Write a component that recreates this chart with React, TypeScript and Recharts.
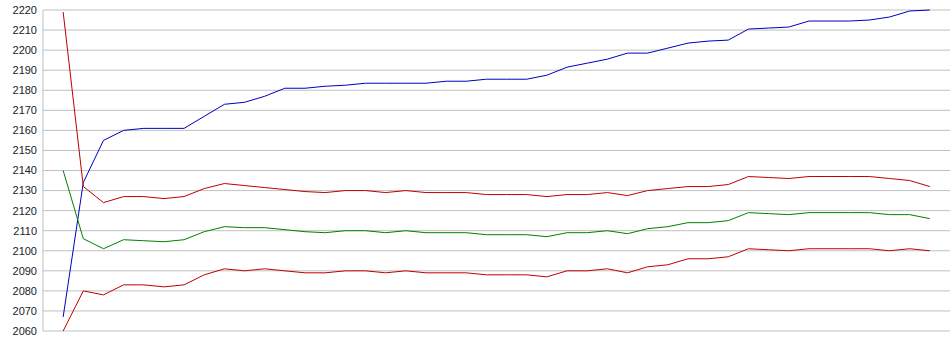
import { LineChart, Line, XAxis, YAxis, CartesianGrid } from "recharts"

// readings, one per step (44 steps)
const steps = Array.from({ length: 44 }, (_, i) => i)

const blue = [
  2067, 2134, 2155, 2160, 2161, 2161, 2161, 2167, 2173, 2174, 2177, 2181, 2181,
  2182, 2182.5, 2183.5, 2183.5, 2183.5, 2183.5, 2184.5, 2184.5, 2185.5, 2185.5, 2185.5,
  2187.5, 2191.5, 2193.5, 2195.5, 2198.5, 2198.5, 2201, 2203.5, 2204.5, 2205,
  2210.5, 2211, 2211.5, 2214.5, 2214.5, 2214.5, 2215, 2216.5, 2219.5, 2220,
]

const upper = [
  2219, 2132, 2124, 2127, 2127, 2126, 2127, 2131, 2133.5, 2132.5, 2131.5, 2130.5, 2129.5,
  2129, 2130, 2130, 2129, 2130, 2129, 2129, 2129, 2128, 2128, 2128,
  2127, 2128, 2128, 2129, 2127.5, 2130, 2131, 2132, 2132, 2133,
  2137, 2136.5, 2136, 2137, 2137, 2137, 2137, 2136, 2135, 2132,
]

const middle = [
  2140, 2106, 2101, 2105.5, 2105, 2104.5, 2105.5, 2109.5, 2112, 2111.5, 2111.5, 2110.5, 2109.5,
  2109, 2110, 2110, 2109, 2110, 2109, 2109, 2109, 2108, 2108, 2108,
  2107, 2109, 2109, 2110, 2108.5, 2111, 2112, 2114, 2114, 2115,
  2119, 2118.5, 2118, 2119, 2119, 2119, 2119, 2118, 2118, 2116,
]

const lower = [
  2060, 2080, 2078, 2083, 2083, 2082, 2083, 2088, 2091, 2090, 2091, 2090, 2089,
  2089, 2090, 2090, 2089, 2090, 2089, 2089, 2089, 2088, 2088, 2088,
  2087, 2090, 2090, 2091, 2089, 2092, 2093, 2096, 2096, 2097,
  2101, 2100.5, 2100, 2101, 2101, 2101, 2101, 2100, 2101, 2100,
]

const yTicks = [
  2060, 2070, 2080, 2090, 2100, 2110, 2120, 2130, 2140,
  2150, 2160, 2170, 2180, 2190, 2200, 2210, 2220,
]

const data = steps.map((i) => ({
  idx: i,
  blue: blue[i],
  upper: upper[i],
  middle: middle[i],
  lower: lower[i],
}))

export default function App() {
  return (
    <div style={{ position: "absolute", left: 0, top: 0, background: "#fff" }}>
      <LineChart
        width={950}
        height={355}
        data={data}
        margin={{ top: 10, right: 0, bottom: 24, left: 0 }}
      >
        <CartesianGrid vertical={false} stroke="#c0c0c0" />
        <XAxis type="number" dataKey="idx" domain={[-1, 44]} hide />
        <YAxis
          width={43}
          domain={[2060, 2220]}
          ticks={yTicks}
          interval={0}
          tickLine={false}
          tickSize={4}
          tickMargin={2}
          axisLine={{ stroke: "#c0c0c0" }}
          tick={{ fill: "#222", fontSize: 11, fontFamily: "Liberation Sans, Arial, sans-serif" }}
        />
        <Line type="linear" dataKey="blue" stroke="#0000c0" strokeWidth={1} dot={false} isAnimationActive={false} />
        <Line type="linear" dataKey="middle" stroke="#008000" strokeWidth={1} dot={false} isAnimationActive={false} />
        <Line type="linear" dataKey="lower" stroke="#c00000" strokeWidth={1} dot={false} isAnimationActive={false} />
        <Line type="linear" dataKey="upper" stroke="#c00000" strokeWidth={1} dot={false} isAnimationActive={false} />
      </LineChart>
    </div>
  )
}
